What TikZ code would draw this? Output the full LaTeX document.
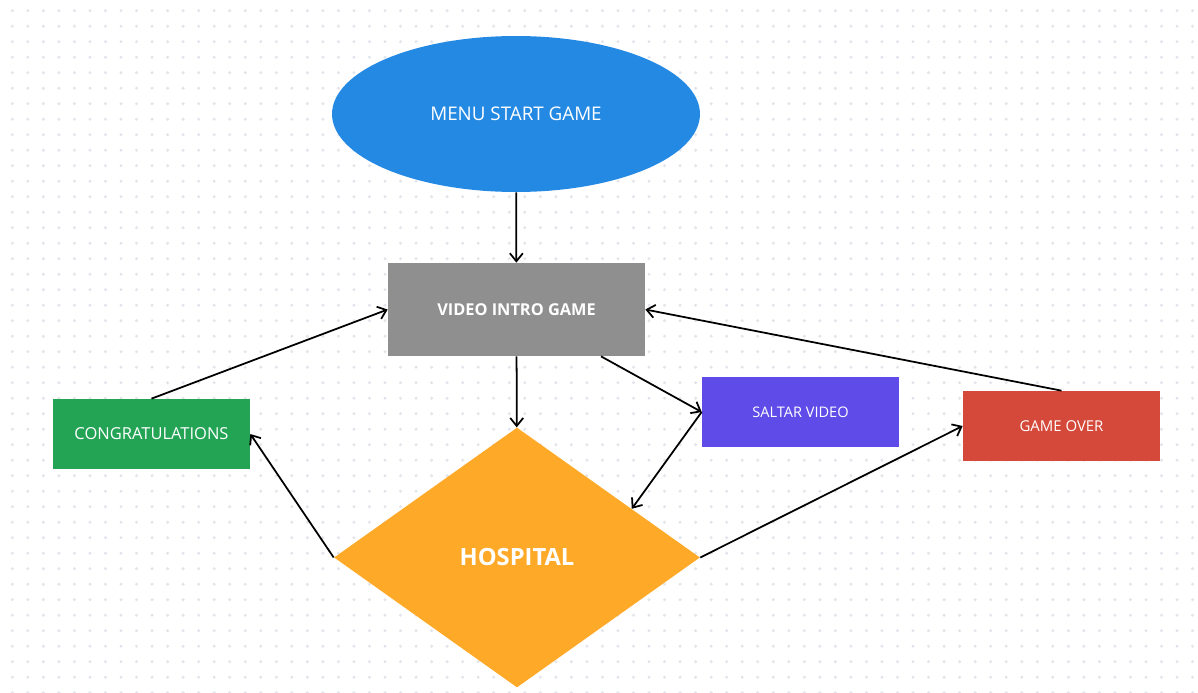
\documentclass[tikz,border=0pt]{standalone}
\usepackage{fontspec}
\setmainfont{Open Sans}
\usetikzlibrary{shapes.geometric,arrows.meta}
\definecolor{menublue}{HTML}{2389E3}
\definecolor{introgray}{HTML}{8F8F8F}
\definecolor{skipviolet}{HTML}{5F4BE8}
\definecolor{wingreen}{HTML}{23A455}
\definecolor{loserred}{HTML}{D5493A}
\definecolor{hosporange}{HTML}{FFA929}
\definecolor{griddot}{HTML}{E2E5EB}
\begin{document}
\begin{tikzpicture}[x=0.02cm,y=-0.02cm,
	box/.style={rectangle,draw=none,text=white,inner sep=0pt,
		minimum width=3.94cm,minimum height=1.4cm},
	link/.style={draw=black,line width=1pt,-{Straight Barb[length=1.6mm,width=2.6mm]}}]
			\useasboundingbox (0,0) rectangle (1198,693);
			\foreach \i in {0,...,76}
				\foreach \j in {0,...,44}
					\fill[griddot] (12.3+15.53*\i,10.7+15.5*\j) circle (1.7);
			
			\node (menu) at (516,114) [ellipse,fill=menublue,text=white,
				minimum width=7.36cm,minimum height=3.12cm,inner sep=0pt]
				{\fontsize{10.7}{13}\selectfont MENU START GAME};
			\node (intro) at (516.5,309.5) [box,fill=introgray,
				minimum width=5.14cm,minimum height=1.86cm]
				{\fontsize{9.3}{11}\selectfont\bfseries VIDEO INTRO GAME};
			\node (skip) at (800.5,412) [box,fill=skipviolet]
				{\fontsize{8.3}{10}\selectfont SALTAR VIDEO};
			\node (win) at (151.5,434) [box,fill=wingreen]
				{\fontsize{9.4}{11}\selectfont CONGRATULATIONS};
			\node (over) at (1061.5,426) [box,fill=loserred]
				{\fontsize{8.5}{10}\selectfont GAME OVER};
			\node (hosp) at (517,557.5) [diamond,fill=hosporange,text=white,
				minimum width=7.32cm,minimum height=5.2cm,inner sep=0pt]
				{\fontsize{13.5}{16}\selectfont\bfseries HOSPITAL};
			
			\path (menu) edge[link] (intro);
			\path (intro) edge[link] (hosp);
			\path (intro.-29) edge[link] (skip.west);
			\path (skip.west) edge[link] (hosp.23);
			\path (hosp.west) edge[link] (win.east);
			\path (win.north) edge[link] (intro.west);
			\path (hosp.east) edge[link] (over.west);
			\path (over.north) edge[link] (intro.east);
			\end{tikzpicture}
\end{document}
